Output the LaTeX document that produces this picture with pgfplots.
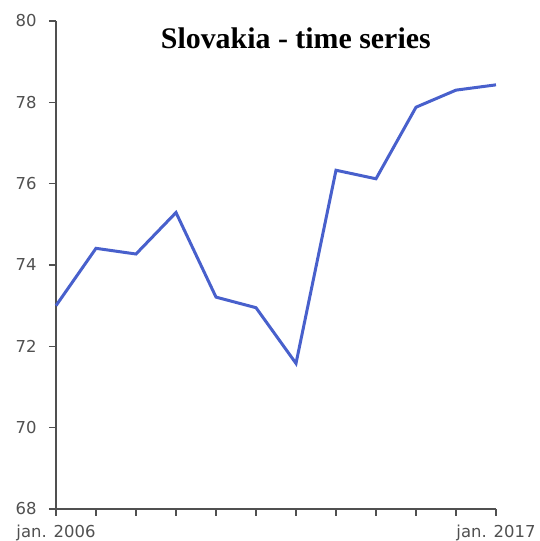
\documentclass[border=0pt]{standalone}
\usepackage{pgfplots}
\pgfplotsset{compat=1.18}
\usepackage{fontspec}
\setmainfont{DejaVu Sans}
\newfontfamily\titlefont{Liberation Serif}
\definecolor{linecol}{RGB}{72,96,204}
\definecolor{axcol}{RGB}{80,80,80}
\definecolor{lblcol}{RGB}{80,80,80}

\begin{document}
\begin{tikzpicture}
\begin{axis}[
  scale only axis,
  width=440bp, height=488bp,
  xmin=0, xmax=11, ymin=68, ymax=80,
  axis x line*=bottom, axis y line*=left,
  axis line style={axcol, line width=1.8bp, -},
  xtick={0,...,11},
  xticklabels={jan. 2006,,,,,,,,,,,jan. 2017},
  ytick={68,70,...,80},
  tick align=outside,
  tick style={axcol, line width=1.3bp},
  major tick length=7bp,
  ticklabel style={font=\fontsize{16.5}{19}\selectfont, text=lblcol},
  yticklabel style={xshift=-9bp},
  xticklabel style={yshift=-5bp},
  /pgf/number format/assume math mode=true,
  clip=false,
]
\addplot[linecol, line width=3bp] coordinates {
  (0, 73.00)
  (1, 74.41)
  (2, 74.27)
  (3, 75.29)
  (4, 73.21)
  (5, 72.95)
  (6, 71.58)
  (7, 76.33)
  (8, 76.12)
  (9, 77.88)
  (10, 78.30)
  (11, 78.43)
};
\node[font=\titlefont\bfseries\fontsize{30}{34}\selectfont, anchor=center]
  at (rel axis cs:0.545,0.965) {Slovakia - time series};
\end{axis}
\pgfresetboundingbox
\path (current axis.south west) ++(-56bp,-32bp) coordinate (bl);
\path (current axis.north east) ++(44bp,21bp) coordinate (tr);
\path[use as bounding box] (bl) rectangle (tr);
\end{tikzpicture}
\end{document}
